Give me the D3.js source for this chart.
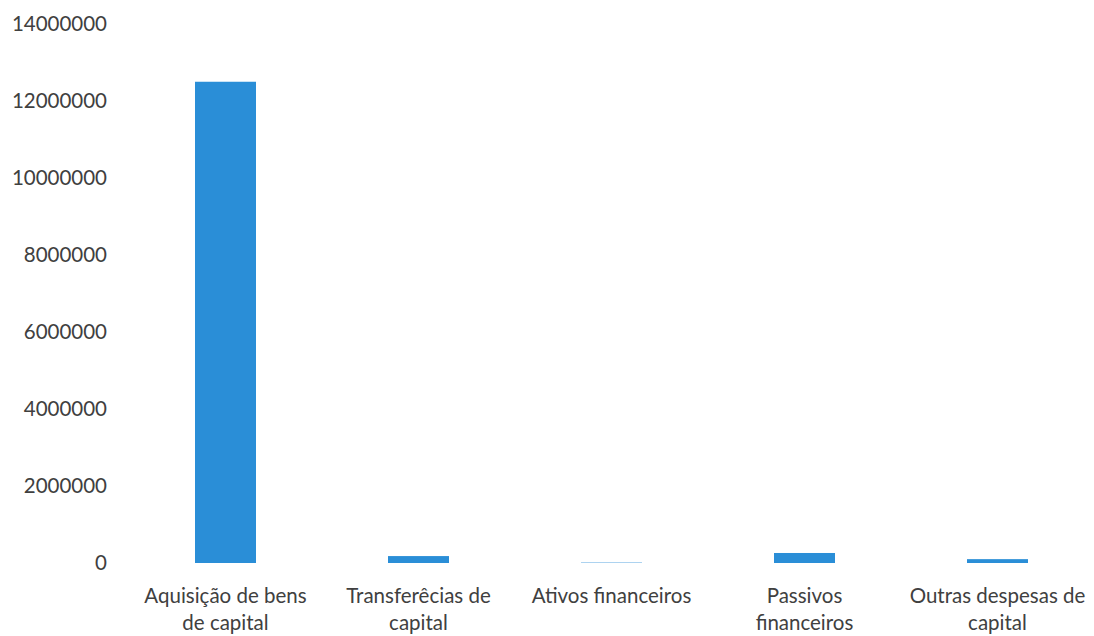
<!DOCTYPE html>
<html>
<head>
<meta charset="utf-8">
<script src="https://cdn.jsdelivr.net/npm/d3@7"></script>
<style>
  body { margin: 0; background: #fff; }
  svg { display: block; font-family: Lato, "Open Sans", sans-serif; }
</style>
</head>
<body>
<svg id="chart" width="1094" height="636"></svg>
<script>
const categories = [
  ["Aquisição de bens", "de capital"],
  ["Transferêcias de", "capital"],
  ["Ativos financeiros"],
  ["Passivos", "financeiros"],
  ["Outras despesas de", "capital"]
]
const values = [12500000, 180000, 10000, 260000, 100000]
const yTicks = [0, 2000000, 4000000, 6000000, 8000000, 10000000, 12000000, 14000000]

const svg = d3.select('#chart')
const width = 1094, height = 636
const margin = { top: 24, right: 0, bottom: 73, left: 129 }
const fontSize = '20.5px'

const x = d3.scaleBand()
  .domain(d3.range(values.length))
  .range([margin.left, width - margin.right])
  .paddingInner(0.684)
  .paddingOuter(0.342)

const y = d3.scaleLinear()
  .domain([0, 14000000])
  .range([height - margin.bottom, margin.top])

// y axis labels only, no line
const yAxis = svg.append('g')
  .attr('transform', `translate(${margin.left - 22},0)`)
  .call(d3.axisLeft(y).tickValues(yTicks).tickFormat(d3.format('d')).tickSize(0).tickPadding(0))
yAxis.select('.domain').remove()
yAxis.selectAll('text')
  .style('font-size', fontSize)
  .style('font-family', 'Lato, "Open Sans", sans-serif')
  .attr('fill', '#404040')

svg.append('g')
  .selectAll('rect')
  .data(values)
  .enter().append('rect')
  .attr('x', (d, i) => x(i))
  .attr('width', x.bandwidth())
  .attr('y', d => y(d))
  .attr('height', d => y(0) - y(d))
  .attr('fill', '#2a8ed7')

// category labels, two lines
const labels = svg.append('g')
  .selectAll('text')
  .data(categories)
  .enter().append('text')
  .attr('x', (d, i) => x(i) + x.bandwidth() / 2)
  .attr('y', y(0) + 40)
  .attr('text-anchor', 'middle')
  .style('font-size', fontSize)
  .attr('fill', '#404040')

labels.selectAll('tspan')
  .data(d => d)
  .enter().append('tspan')
  .attr('x', function () { return d3.select(this.parentNode).attr('x') })
  .attr('dy', (d, i) => i === 0 ? 0 : 27)
  .text(d => d)
</script>
</body>
</html>
